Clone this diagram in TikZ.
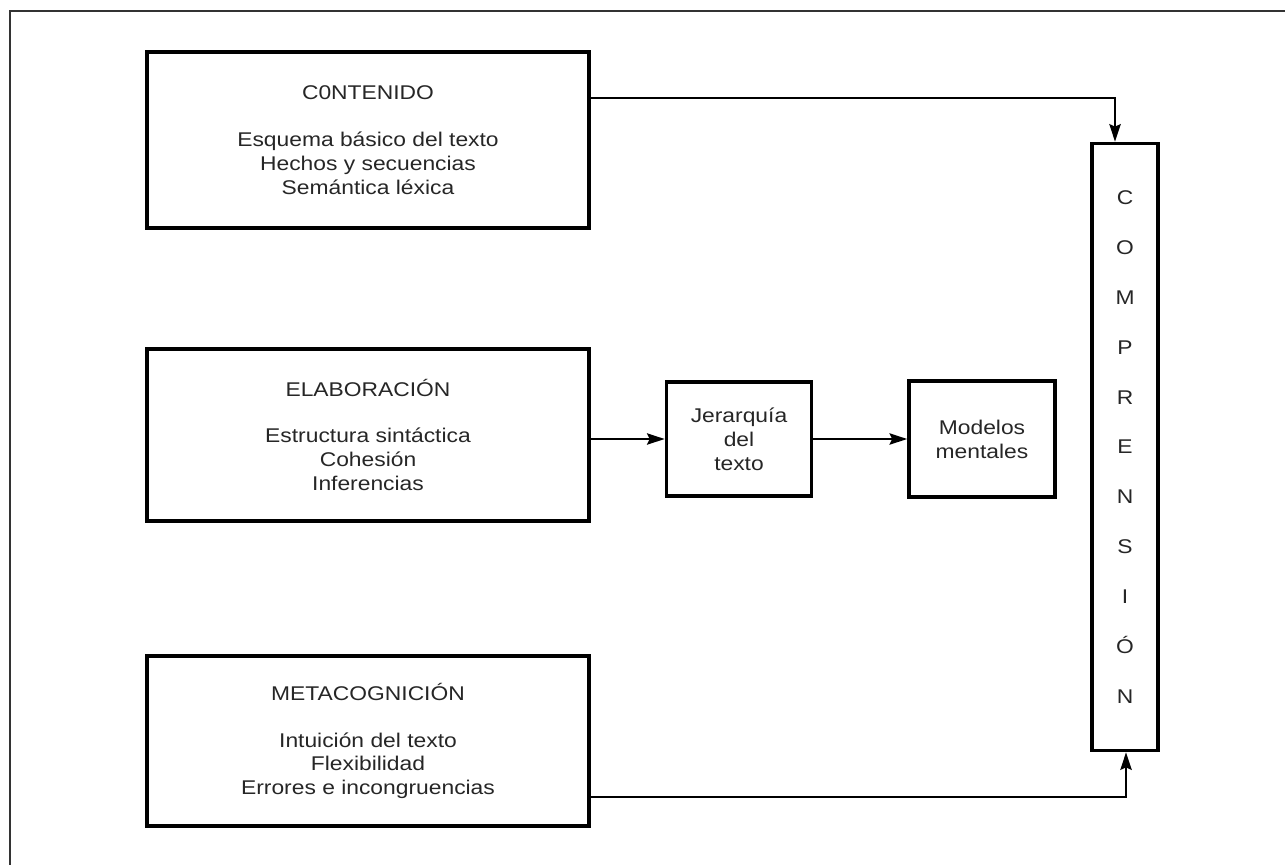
\documentclass[tikz,border=0pt]{standalone}
\usepackage{fontspec}
\setmainfont{Liberation Sans}[FakeStretch=1.15]
\usetikzlibrary{arrows.meta,calc}

\begin{document}
\begin{tikzpicture}[
    x=0.02cm, y=-0.02cm,
    font=\fontsize{11.3}{13.6}\selectfont,
    block/.style = {rectangle, draw, line width=2.2pt, align=center, text=black!85},
    big/.style = {block, minimum width=8.84cm, minimum height=3.44cm},
    small/.style = {block, minimum width=2.9cm, minimum height=2.28cm},
    arrow/.style = {-{Stealth[length=10pt,width=6.5pt,inset=1.5pt]}, line width=1.1pt}
]
    \useasboundingbox (0,0) rectangle (1285,865);
    % frame of the page
    \draw[line width=0.8pt, black!80] (10,865) -- (10,11) -- (1285,11);

    \node[big, minimum height=3.52cm] (contenido) at (368,140) {C0NTENIDO\\[13pt]Esquema básico del texto\\Hechos y secuencias\\Semántica léxica};
    \node[big] (elaboracion) at (368,435) {ELABORACIÓN\\[13pt]Estructura sintáctica\\Cohesión\\Inferencias};
    \node[big, minimum height=3.4cm] (metacog) at (368,741) {METACOGNICIÓN\\[13pt]Intuición del texto\\Flexibilidad\\Errores e incongruencias};
    \node[small] (jerarquia) at (739,439) {Jerarquía\\del\\texto};
    \node[small, minimum width=2.92cm, minimum height=2.32cm] (modelos) at (982,439) {Modelos\\mentales};
    \node[block, minimum width=1.32cm, minimum height=12.14cm, font=\fontsize{11.3}{28.4}\selectfont] (comprension) at (1125,447) {C\\O\\M\\P\\R\\E\\N\\S\\I\\Ó\\N};

    \draw[arrow] (contenido.east |- 0,98) -| (1115,0 |- comprension.north);
    \draw[arrow] (elaboracion.east |- jerarquia.west) -- (jerarquia.west);
    \draw[arrow] (jerarquia) -- (modelos);
    \draw[arrow] (metacog.east |- 0,797) -| (1126,0 |- comprension.south);
\end{tikzpicture}
\end{document}
